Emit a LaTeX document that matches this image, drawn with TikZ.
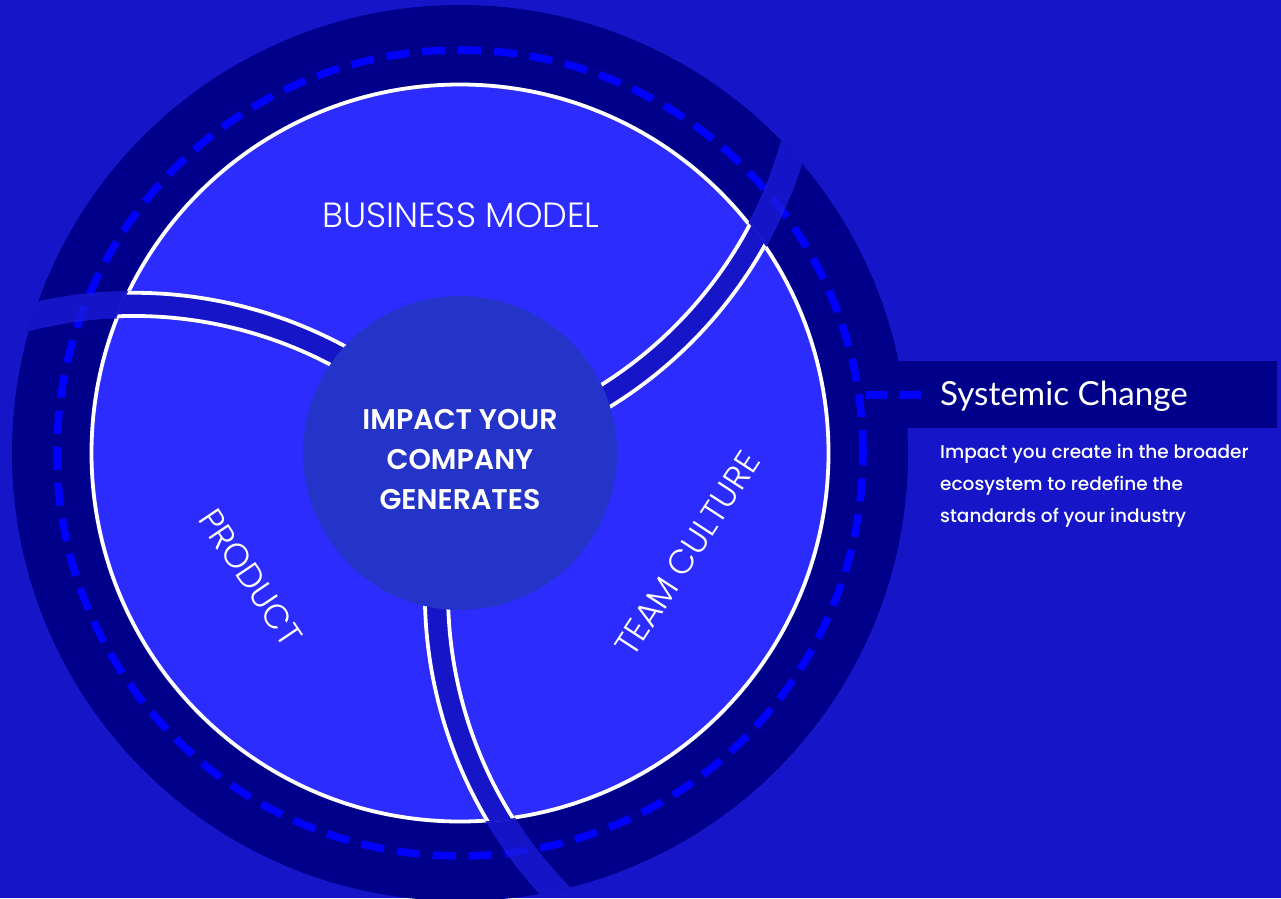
\documentclass[tikz,border=0pt]{standalone}
\usepackage{fontspec}
\setmainfont{Poppins}
\newfontfamily\popsemi{Poppins SemiBold}
\newfontfamily\poplight{Poppins Light}
\newfontfamily\popmed{Poppins Medium}
\newfontfamily\latofont{Lato}
\usetikzlibrary{calc}

\definecolor{bgblue}{RGB}{22,22,200}
\definecolor{navy}{RGB}{0,0,138}
\definecolor{segblue}{RGB}{44,44,255}
\definecolor{hubblue}{RGB}{37,52,200}
\definecolor{dashblue}{RGB}{0,0,255}
\definecolor{veil}{RGB}{29,29,220}

\begin{document}
\begin{tikzpicture}[x=1pt,y=1pt,
  ringdash/.style={dashblue, line width=7.5pt, dash pattern=on 23pt off 13pt},
  rim/.style={white, line width=3.8pt},
  gapband/.style={line width=27pt},
  seglabel/.style={text=white, inner sep=0pt, font=\poplight\fontsize{34}{34}\selectfont},
]
\useasboundingbox (0,0) rectangle (1281,898);
\fill[bgblue] (0,0) rectangle (1281,898);

\coordinate (O) at (460,445);

% header strip behind the outer ring
\fill[navy] (880,470) rectangle (1277,537);

% outer ring with its dashed track
\fill[navy] (O) circle[radius=448];
\draw[ringdash] (O) circle[radius=403];
\coordinate (tapL) at (866,503);
\coordinate (tapR) at (921,503);
\draw[ringdash, dash pattern=on 21pt off 13pt] (tapL) -- (tapR);

% inner disk of the three segments
\fill[segblue] (O) circle[radius=368.5];
\draw[rim] (O) circle[radius=368.5];

% curved gaps between the segments
\foreach \p in {-19,101,221} {
  \begin{scope}
    \clip (O) circle[radius=448];
    \draw[gapband, veil, draw opacity=0.75] (O) arc[start angle=\p+180, end angle=\p+255, radius=432];
  \end{scope}
  \begin{scope}
    \clip (O) circle[radius=370.4];
    \draw[gapband, bgblue] (O) arc[start angle=\p+180, end angle=\p+255, radius=432];
  \end{scope}
  \begin{scope}
    \clip (O) circle[radius=369];
    \draw[rim] ($(O)+(\p:432)+({\p+172}:420.4)$)
      arc[start angle=\p+172, end angle=\p+255, radius=420.4];
    \draw[rim] ($(O)+(\p:432)+({\p+172}:443.6)$)
      arc[start angle=\p+172, end angle=\p+255, radius=443.6];
  \end{scope}
}

% hub
\node (hub) [circle, fill=hubblue, minimum size=314pt, inner sep=0pt] at (O) {};
\node (hubtext) [align=center, text=white, inner sep=0pt,
  font=\popsemi\fontsize{28.5}{40}\selectfont] at (460,438.5)
  {IMPACT YOUR\\COMPANY\\GENERATES};

% segment labels
\node (bm) [seglabel, anchor=base, font=\poplight\fontsize{35}{35}\selectfont] at (461,670.7) {BUSINESS MODEL};
\node (prod) [seglabel, rotate=-56] at (250.7,320.7) {PRODUCT};
\node (team) [seglabel, rotate=57] at (687.3,344.3) {TEAM CULTURE};

% side caption
\node (sys) [anchor=base west, inner sep=0pt, text=white,
  font=\latofont\fontsize{33.2}{33.2}\selectfont] at (940,493) {Systemic Change};
\node (desc) [anchor=north west, inner sep=0pt, align=left, text=white,
  font=\popmed\fontsize{18.5}{32}\selectfont] at (940,453.7)
  {Impact you create in the broader\\ecosystem to redefine the\\standards of your industry};
\end{tikzpicture}
\end{document}
